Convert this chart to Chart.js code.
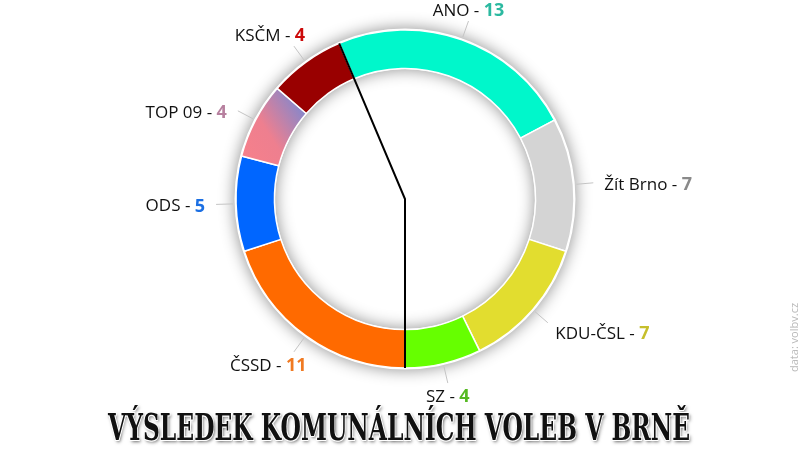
<!DOCTYPE html>
<html>
<head>
<meta charset="utf-8">
<script src="https://cdn.jsdelivr.net/npm/chart.js@4.4.1/dist/chart.umd.min.js"></script>
<style>
  html, body { margin: 0; padding: 0; background: #fff; }
  #wrap { position: relative; width: 798px; height: 450px; overflow: hidden; }
  #title {
    position: absolute; left: 108px; top: 405px; white-space: nowrap;
    font-family: "DejaVu Serif Condensed", "DejaVu Serif", serif; font-weight: bold;
    font-size: 38px; line-height: 44px; color: #111;
    transform-origin: 0 0;
    text-shadow: -1px -1px 0 #fff, 1px -1px 0 #fff, -1px 1px 0 #fff, 1px 1px 0 #fff,
                 2px 2px 4px rgba(0,0,0,0.6);
  }
  #source {
    position: absolute; left: 786px; top: 372px; transform: rotate(-90deg); transform-origin: 0 0;
    font-family: "Open Sans", sans-serif; font-size: 11px; color: #b8b8b8; white-space: nowrap;
  }
</style>
</head>
<body>
<div id="wrap">
  <canvas id="myChart" width="798" height="450"></canvas>
  <div id="title">VÝSLEDEK KOMUNÁLNÍCH VOLEB V BRNĚ</div>
  <div id="source">data: volby.cz</div>
</div>
<script>
// mandaty v zastupitelstvu, po smeru hodin od ANO
var parties = ["ANO", "Žít Brno", "KDU-ČSL", "SZ", "ČSSD", "ODS", "TOP 09", "KSČM"];
var seats = [13, 7, 7, 4, 11, 5, 4, 4];
var partyColors = ["#00f7cb", "#d4d4d4", "#e2dd2f", "#66ff00", "#ff6a00", "#0066ff", "#f3808c", "#990000"];
var numberColors = ["#2bb9a0", "#8a8a8a", "#c6bf2c", "#55b922", "#f07a22", "#1b6fe3", "#b7809f", "#cc0a0a"];
var coalition = 4; // ANO, Žít Brno, KDU-ČSL, SZ

var total = seats.reduce(function(a, b){ return a + b; }, 0);
var coalSeats = 0;
for (var i = 0; i < coalition; i++) coalSeats += seats[i];
var rotation = 180 - coalSeats / total * 360;

var outerR = 169, innerR = 130;

// titulek natahnout na sirku jako v predloze
var titleEl = document.getElementById("title");
var tw = titleEl.getBoundingClientRect().width;
titleEl.style.transform = "scaleX(" + (582 / tw) + ")";

var myChart = document.getElementById("myChart");

function segColor(context){
  var idx = context.dataIndex;
  var chart = context.chart;
  if (parties[idx] != "TOP 09" || !chart.chartArea) return partyColors[idx];
  var ca = chart.chartArea;
  var cx = (ca.left + ca.right) / 2, cy = (ca.top + ca.bottom) / 2;
  var before = 0;
  for (var k = 0; k < idx; k++) before += seats[k];
  var a1 = (rotation - 90) * Math.PI / 180 + before / total * Math.PI * 2;
  var a2 = a1 + seats[idx] / total * Math.PI * 2;
  var x1 = cx + Math.cos(a1) * outerR, y1 = cy + Math.sin(a1) * outerR;
  var x2 = cx + Math.cos(a2) * innerR, y2 = cy + Math.sin(a2) * innerR;
  var g = chart.ctx.createLinearGradient(x1, y1, x2, y2);
  g.addColorStop(0, "#f6808b");
  g.addColorStop(0.45, "#ee7f8f");
  g.addColorStop(1, "#8687cb");
  return g;
}

// stin pod prstencem
const ringShadow = {
  id: "ringShadow",
  beforeDatasetsDraw(chart){
    var arc = chart.getDatasetMeta(0).data[0];
    if (!arc) return;
    var ctx = chart.ctx;
    ctx.save();
    ctx.shadowColor = "rgba(0,0,0,0.45)";
    ctx.shadowBlur = 16;
    ctx.fillStyle = "#fff";
    ctx.beginPath();
    ctx.arc(arc.x, arc.y, arc.outerRadius + 1.5, 0, Math.PI * 2);
    ctx.arc(arc.x, arc.y, arc.innerRadius - 0.5, 0, Math.PI * 2, true);
    ctx.fill();
    ctx.restore();
  }
};

// popisky s vodicimi carami a cara vetsiny
const labelsPlugin = {
  id: "labelsPlugin",
  afterDatasetsDraw(chart){
    var ctx = chart.ctx;
    var arcs = chart.getDatasetMeta(0).data;
    ctx.save();
    for (var i = 0; i < arcs.length; i++){
      var arc = arcs[i];
      var mid = (arc.startAngle + arc.endAngle) / 2;
      var c = Math.cos(mid), s = Math.sin(mid);
      var r = arc.outerRadius;
      var up = -s;
      ctx.strokeStyle = "#c4c4c4";
      ctx.lineWidth = 1;
      ctx.beginPath();
      ctx.moveTo(arc.x + c * (r + 3), arc.y + s * (r + 3));
      ctx.lineTo(arc.x + c * (r + 20), arc.y + s * (r + 20));
      ctx.stroke();

      var px = arc.x + c * (r + 20), py = arc.y + s * (r + 20);
      var name = parties[i] + " - ";
      var num = String(seats[i]);
      ctx.font = "17px 'Open Sans'";
      var w1 = ctx.measureText(name).width;
      ctx.font = "bold 18px 'Open Sans'";
      var w2 = ctx.measureText(num).width;
      var w = w1 + w2;
      var f = Math.min(Math.max((Math.abs(c) - 0.38) / 0.4, 0), 1) * Math.sign(c);
      var tx = px + f * (w / 2 + 11);
      var g = Math.min(Math.max((Math.abs(up) - 0.5) / 0.2, 0), 1) * Math.sign(up);
      var ty = py - g * 12 + 2;
      ctx.textBaseline = "middle";
      ctx.textAlign = "left";
      ctx.fillStyle = "#111";
      ctx.font = "17px 'Open Sans'";
      ctx.fillText(name, tx - w / 2, ty);
      ctx.fillStyle = numberColors[i];
      ctx.font = "bold 18px 'Open Sans'";
      ctx.fillText(num, tx - w / 2 + w1, ty);
    }

    var first = arcs[0], last = arcs[coalition - 1];
    ctx.strokeStyle = "#000";
    ctx.lineWidth = 2;
    ctx.lineJoin = "miter";
    ctx.beginPath();
    ctx.moveTo(last.x + Math.cos(last.endAngle) * last.outerRadius, last.y + Math.sin(last.endAngle) * last.outerRadius);
    ctx.lineTo(first.x, first.y);
    ctx.lineTo(first.x + Math.cos(first.startAngle) * first.outerRadius, first.y + Math.sin(first.startAngle) * first.outerRadius);
    ctx.stroke();
    ctx.restore();
  }
};

const data = {
  labels: parties,
  datasets: [{
    data: seats,
    backgroundColor: segColor,
    borderColor: "#ffffff",
    borderWidth: 1.5,
    hoverOffset: 0
  }]
};

const config = {
  type: "doughnut",
  data: data,
  options: {
    responsive: false,
    animation: false,
    rotation: rotation,
    radius: outerR,
    cutout: innerR,
    layout: { padding: { top: 30, bottom: 82, left: 12, right: 0 } },
    plugins: {
      legend: { display: false },
      tooltip: { enabled: false },
      title: { display: false }
    }
  },
  plugins: [ringShadow, labelsPlugin]
};

var chchc = new Chart(myChart, config);
</script>
</body>
</html>
